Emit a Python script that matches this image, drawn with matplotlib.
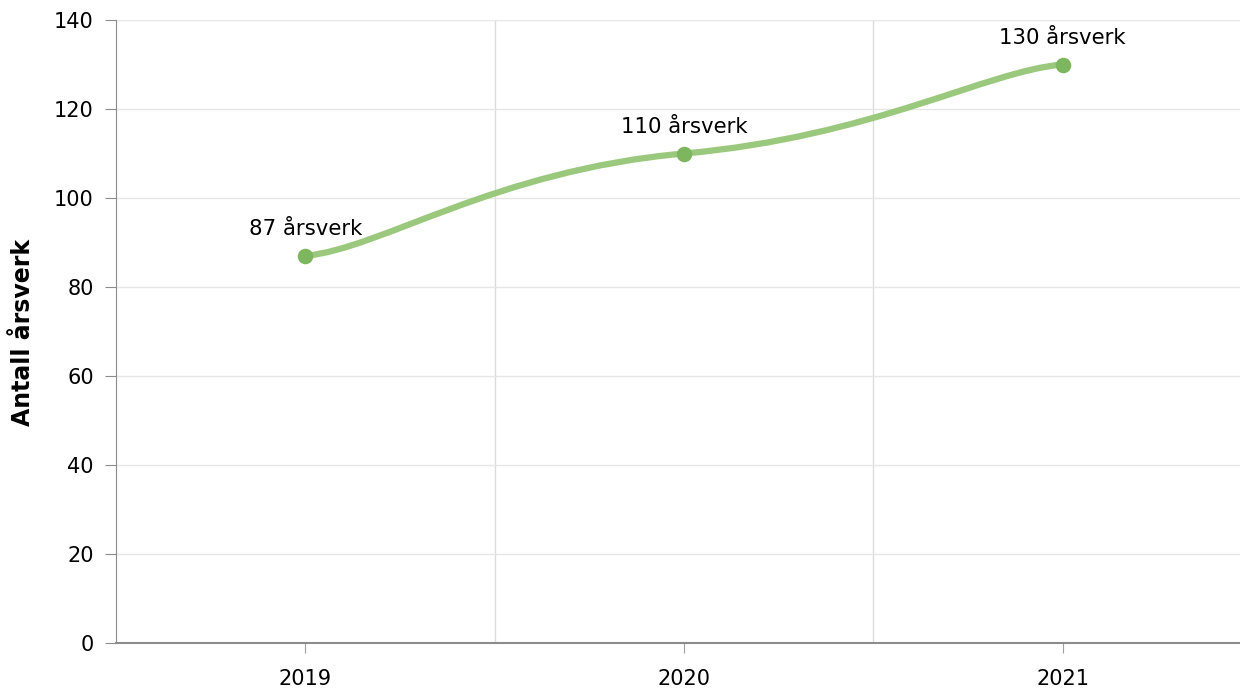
import numpy as np
import matplotlib
matplotlib.use("Agg")
import matplotlib.pyplot as plt
from matplotlib.path import Path
from matplotlib.patches import PathPatch

# -------------------------------
# Data
# -------------------------------
years = ["2019", "2020", "2021"]
values = [87, 110, 130]
labels = ["87 årsverk", "110 årsverk", "130 årsverk"]
y_ticks = [0, 20, 40, 60, 80, 100, 120, 140]

line_color = "#9ac87c"
marker_color = "#7db65e"

plt.rcParams["font.family"] = ["DejaVu Sans"]


# -------------------------------
# Smooth curve through the points (cubic bezier segments,
# shallow tangents, long arms at inner points, short at the ends)
# -------------------------------
def smooth_path(xs, ys, flat=0.35, inner_arm=0.5, end_arm=0.2):
    n = len(xs)
    slopes = []
    for i in range(n):
        sec = []
        if i > 0:
            sec.append((ys[i] - ys[i - 1]) / (xs[i] - xs[i - 1]))
        if i < n - 1:
            sec.append((ys[i + 1] - ys[i]) / (xs[i + 1] - xs[i]))
        slopes.append(flat * np.mean(sec))
    arms = [end_arm if i in (0, n - 1) else inner_arm for i in range(n)]

    verts = [(xs[0], ys[0])]
    codes = [Path.MOVETO]
    for i in range(1, n):
        h = xs[i] - xs[i - 1]
        a = arms[i - 1] * h
        b = arms[i] * h
        verts += [(xs[i - 1] + a, ys[i - 1] + slopes[i - 1] * a),
                  (xs[i] - b, ys[i] - slopes[i] * b),
                  (xs[i], ys[i])]
        codes += [Path.CURVE4] * 3
    return Path(verts, codes)


# -------------------------------
# Figure
# -------------------------------
fig = plt.figure(figsize=(12.4, 6.9), dpi=100)
ax = fig.add_axes([116 / 1240, 47 / 690, 1124 / 1240, 623 / 690])

x = np.arange(len(years), dtype=float)
patch = PathPatch(smooth_path(x, values), facecolor="none",
                  edgecolor=line_color, linewidth=4.5, capstyle="round", zorder=3)
ax.add_patch(patch)
ax.scatter(x, values, s=125, color=marker_color, zorder=4, linewidths=0)

for xi, v, lab in zip(x, values, labels):
    ax.annotate(lab, (xi, v), xytext=(0, 19), textcoords="offset points",
                ha="center", va="center", fontsize=15.3, color="#000000")

# -------------------------------
# Axes
# -------------------------------
ax.set_xlim(-0.5, 2.468)
ax.set_ylim(0, 140)
ax.set_yticks(y_ticks)
ax.set_xticks(x)
ax.set_xticklabels(years)
ax.set_xticks([0.5, 1.5], minor=True)

ax.grid(axis="y", which="major", color="#e6e6e6", linewidth=1)
ax.grid(axis="x", which="minor", color="#dcdcdc", linewidth=1)
ax.set_axisbelow(True)

for side in ["top", "right"]:
    ax.spines[side].set_visible(False)
ax.spines["left"].set_color("#8c8c8c")
ax.spines["bottom"].set_color("#8c8c8c")
ax.spines["bottom"].set_linewidth(1.5)

ax.tick_params(axis="y", which="major", length=8, color="#8c8c8c",
               labelsize=15, pad=8)
ax.tick_params(axis="x", which="major", length=7, color="#a0a0a0",
               labelsize=15, pad=12)
ax.tick_params(axis="x", which="minor", length=0)

fig.text(23 / 1240, 358 / 690, "Antall årsverk", rotation=90, fontsize=17,
         fontweight="bold", ha="center", va="center")

fig.savefig("out.png", dpi=100)
